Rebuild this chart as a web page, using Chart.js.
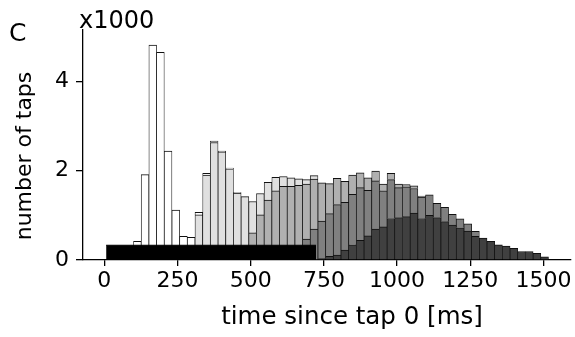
<!DOCTYPE html>
<html>
<head>
<meta charset="utf-8">
<script src="https://cdn.jsdelivr.net/npm/chart.js@4.4.0/dist/chart.umd.min.js"></script>
<style>
  html, body { margin: 0; padding: 0; background: #fff; }
</style>
</head>
<body>
<canvas id="chart" width="575" height="337"></canvas>
<script>
// histogram bins in ms: 54 bins, 26.25 ms wide, first one starting near 100 ms
const binStart = 99.6;
const binWidth = 26.25;
const binCenters = [];
for (let i = 0; i < 54; i++) binCenters.push(binStart + (i + 0.5) * binWidth);

// counts per bin (x1000 taps), stacked from tap 5 at the bottom up to tap 1
const tap1 = [0.42, 1.91, 4.81, 4.65, 2.44, 1.12, 0.48, 0.36, 0.06, 0.04, 0.03, 0.02, 0.02, 0.01,
              0, 0, 0, 0, 0, 0, 0, 0, 0, 0, 0, 0, 0, 0, 0, 0, 0, 0, 0, 0, 0, 0, 0, 0, 0, 0,
              0, 0, 0, 0, 0, 0, 0, 0, 0, 0, 0, 0, 0, 0];
const tap2 = [0, 0, 0, 0, 0, 0, 0.05, 0.15, 1.01, 1.90, 2.63, 2.42, 2.04, 1.50, 1.22, 0.70,
              0.48, 0.40, 0.30, 0.22, 0.19, 0.15, 0.10, 0.08, 0, 0, 0, 0, 0, 0, 0, 0, 0, 0,
              0, 0, 0, 0, 0, 0, 0, 0, 0, 0, 0, 0, 0, 0, 0, 0, 0, 0, 0, 0];
const tap3 = [0, 0, 0, 0, 0, 0, 0, 0, 0, 0, 0, 0, 0, 0, 0.20, 0.61, 1.01, 1.34, 1.55, 1.65,
              1.65, 1.47, 1.23, 1.12, 0.86, 0.67, 0.59, 0.47, 0.43, 0.33, 0.28, 0.22, 0.15, 0.14,
              0.08, 0.05, 0.06, 0.02, 0, 0, 0, 0, 0, 0, 0, 0, 0, 0, 0, 0, 0, 0, 0, 0];
const tap4 = [0, 0, 0, 0, 0, 0, 0, 0, 0, 0, 0, 0, 0, 0, 0, 0, 0, 0, 0, 0, 0, 0.20, 0.47, 0.69,
              0.84, 0.96, 1.13, 1.07, 1.13, 1.18, 1.02, 1.08, 0.81, 0.87, 0.67, 0.67, 0.55, 0.48,
              0.46, 0.32, 0.32, 0.24, 0.20, 0.16, 0.11, 0, 0, 0, 0, 0, 0, 0, 0, 0];
const tap5 = [0, 0, 0, 0, 0, 0, 0, 0, 0, 0, 0, 0, 0, 0, 0, 0, 0, 0, 0, 0, 0, 0, 0, 0,
              0.03, 0.08, 0.11, 0.22, 0.34, 0.44, 0.54, 0.69, 0.74, 0.93, 0.95, 0.97, 1.05, 0.93,
              1.00, 0.95, 0.86, 0.78, 0.72, 0.65, 0.53, 0.49, 0.42, 0.34, 0.31, 0.26, 0.19, 0.19,
              0.15, 0.07];

// black stimulus bar along the bottom (ms, x1000 taps)
const stimStart = 6;
const stimEnd = 723;
const stimHeight = 0.33;

const xTicks = [0, 250, 500, 750, 1000, 1250, 1500];
const yTicks = [0, 2, 4];

const font = "'DejaVu Sans', sans-serif";
const edge = "#111";

function toPoints(values) {
    return values.map((v, i) => ({ x: binCenters[i], y: v }));
}

function barSet(label, values, color) {
    return {
        type: "bar",
        label: label,
        data: toPoints(values),
        backgroundColor: color,
        borderColor: edge,
        borderWidth: { top: 1, left: 0.75, right: 0.75, bottom: 0 },
        barPercentage: 1,
        categoryPercentage: 1,
        stack: "taps"
    };
}

// axis titles and panel letter
const labels = {
    id: "labels",
    afterDraw(chart) {
        const c = chart.ctx;
        c.save();
        c.fillStyle = "#000";
        c.textAlign = "center";
        c.textBaseline = "middle";
        c.font = "24.5px " + font;
        c.fillText("time since tap 0 [ms]", 352, 318);
        c.save();
        c.translate(25, 156);
        c.rotate(-Math.PI / 2);
        c.font = "22px " + font;
        c.fillText("number of taps", 0, 0);
        c.restore();
        c.textAlign = "left";
        c.textBaseline = "alphabetic";
        c.font = "24px " + font;
        c.fillText("x1000", 79, 28);
        c.font = "25px " + font;
        c.fillText("C", 9, 41);
        c.restore();
    }
};

new Chart(document.getElementById("chart").getContext("2d"), {
    data: {
        datasets: [
            barSet("tap 5", tap5, "#404040"),
            barSet("tap 4", tap4, "#808080"),
            barSet("tap 3", tap3, "#b0b0b0"),
            barSet("tap 2", tap2, "#e0e0e0"),
            barSet("tap 1", tap1, "#ffffff"),
            {
                type: "line",
                label: "stimulus",
                data: [{ x: stimStart, y: stimHeight }, { x: stimEnd, y: stimHeight }],
                borderColor: "#000",
                borderWidth: 1,
                backgroundColor: "#000",
                fill: "origin",
                pointRadius: 0,
                stack: "stim",
                order: -1
            }
        ]
    },
    options: {
        responsive: false,
        animation: false,
        devicePixelRatio: 1,
        layout: { padding: { top: 30, right: 4, left: 0, bottom: 0 } },
        plugins: {
            legend: { display: false },
            tooltip: { enabled: false }
        },
        scales: {
            x: {
                type: "linear",
                offset: false,
                min: -73,
                max: 1594,
                afterBuildTicks: s => { s.ticks = xTicks.map(v => ({ value: v })); },
                afterFit: s => { s.height = 77; },
                ticks: {
                    color: "#000", font: { family: font, size: 22 }, padding: 2, maxRotation: 0,
                    autoSkip: false, callback: v => String(v)
                },
                grid: { display: true, offset: false, drawOnChartArea: false, drawTicks: true, tickLength: 6, color: "#000", lineWidth: 1.3 },
                border: { display: true, color: "#000", width: 1.3 }
            },
            y: {
                stacked: true,
                min: 0,
                max: 5.15,
                afterBuildTicks: s => { s.ticks = yTicks.map(v => ({ value: v })); },
                afterFit: s => { s.width = 83; },
                ticks: { color: "#000", font: { family: font, size: 22 }, padding: 7 },
                grid: { display: true, drawOnChartArea: false, drawTicks: true, tickLength: 7, color: "#000", lineWidth: 1.3 },
                border: { display: true, color: "#000", width: 1.3 }
            }
        }
    },
    plugins: [labels]
});
</script>
</body>
</html>
